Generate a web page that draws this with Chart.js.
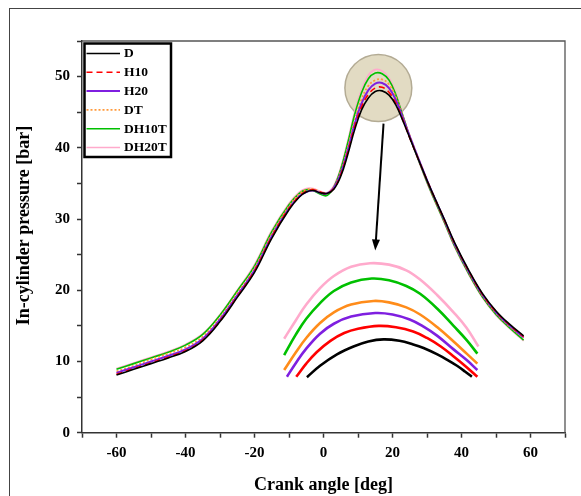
<!DOCTYPE html>
<html>
<head>
<meta charset="utf-8">
<script src="https://cdn.jsdelivr.net/npm/chart.js@4.4.0/dist/chart.umd.min.js"></script>
<style>
  html, body { margin: 0; padding: 0; background: #fff; }
  #wrap { position: relative; width: 581px; height: 496px; overflow: hidden; }
  #frame { position: absolute; left: 9px; top: 8px; width: 700px; height: 700px; border-left: 1.5px solid #444; border-top: 1.5px solid #444; }
  canvas { position: absolute; left: 0; top: 0; }
</style>
</head>
<body>
<div id="wrap"><div id="frame"></div><canvas id="myChart" width="581" height="496"></canvas></div>
<script>
'use strict';

// crank angle [deg] for the main curves
let angle = [-60, -55, -50, -45, -40, -35, -30, -25, -20, -15, -10, -7, -5, -3, -1, 1, 3, 5, 7, 9, 11, 13, 15, 17, 19, 21, 23, 25, 28, 31, 35, 38, 42, 46, 50, 54, 58];

let labels = ['D', 'H10', 'H20', 'DT', 'DH10T', 'DH20T'];

// in-cylinder pressure [bar]
let pD = [8.1, 8.9, 9.7, 10.5, 11.4, 12.9, 15.6, 19.0, 22.5, 27.3, 31.3, 33.1, 33.8, 34.0, 33.7, 33.6, 34.2, 36.0, 39.0, 42.5, 45.3, 47.0, 47.9, 48.0, 47.4, 46.0, 43.8, 41.4, 37.8, 34.3, 30.0, 26.7, 22.9, 19.6, 17.1, 15.2, 13.6];
let pH10 = [8.2, 9.0, 9.8, 10.6, 11.5, 13.0, 15.7, 19.1, 22.7, 27.5, 31.5, 33.2, 33.9, 34.1, 33.8, 33.6, 34.3, 36.2, 39.3, 42.9, 45.7, 47.5, 48.4, 48.5, 47.8, 46.2, 43.9, 41.4, 37.8, 34.3, 29.9, 26.6, 22.8, 19.5, 17.0, 15.1, 13.5];
let pH20 = [8.4, 9.2, 10.0, 10.8, 11.7, 13.2, 15.9, 19.3, 22.8, 27.6, 31.5, 33.2, 33.8, 34.0, 33.7, 33.6, 34.4, 36.4, 39.6, 43.3, 46.2, 48.1, 49.0, 49.1, 48.4, 46.7, 44.2, 41.6, 37.9, 34.3, 29.9, 26.5, 22.7, 19.4, 16.9, 15.0, 13.4];
let pDT = [8.6, 9.4, 10.3, 11.1, 12.0, 13.5, 16.2, 19.6, 23.1, 27.9, 31.8, 33.5, 34.1, 34.2, 33.8, 33.6, 34.5, 36.7, 40.0, 43.8, 46.8, 48.7, 49.5, 49.6, 48.9, 47.1, 44.4, 41.7, 37.9, 34.2, 29.8, 26.4, 22.6, 19.3, 16.8, 14.9, 13.3];
let pDH10T = [8.9, 9.7, 10.5, 11.3, 12.3, 13.8, 16.5, 19.9, 23.4, 28.2, 32.0, 33.6, 34.1, 34.0, 33.5, 33.3, 34.5, 37.0, 40.6, 44.6, 47.7, 49.7, 50.5, 50.4, 49.5, 47.4, 44.5, 41.6, 37.7, 34.0, 29.6, 26.2, 22.4, 19.1, 16.6, 14.7, 13.0];
let pDH20T = [9.0, 9.8, 10.6, 11.4, 12.4, 13.9, 16.6, 20.0, 23.6, 28.4, 32.2, 33.8, 34.3, 34.3, 33.9, 33.7, 34.7, 37.2, 40.9, 45.0, 48.1, 50.2, 51.0, 50.8, 49.8, 47.6, 44.6, 41.6, 37.6, 33.9, 29.5, 26.1, 22.3, 19.0, 16.5, 14.6, 12.9];

// magnified peak (inset drawn on the same axes)
let zxD = [-4.8, -1, 3.9, 8.7, 13, 17.4, 22, 26, 29, 33, 36, 38.7, 41, 43];
let zyD = [7.8, 9.4, 11.0, 12.1, 12.8, 13.1, 12.9, 12.4, 11.9, 11.0, 10.2, 9.4, 8.6, 7.85];
let zxH10 = [-7.9, -5, -2, 2, 6, 10, 16, 21, 26, 30, 34, 38, 41.5, 44.6];
let zyH10 = [7.85, 9.7, 11.3, 12.9, 14.0, 14.6, 15.0, 14.8, 14.2, 13.3, 12.1, 10.6, 9.2, 7.85];
let zxH20 = [-10.6, -8, -5, -1, 3, 8, 15, 20, 25, 29, 33, 37.7, 41.5, 44.6];
let zyH20 = [7.85, 9.8, 11.8, 13.9, 15.3, 16.3, 16.8, 16.6, 15.9, 14.9, 13.6, 11.7, 10.2, 8.8];
let zxDT = [-11.4, -8, -5, -1, 3, 8, 14.5, 19, 24, 28, 33, 37.7, 41.5, 44.6];
let zyDT = [8.8, 11.3, 13.3, 15.4, 16.9, 18.0, 18.5, 18.3, 17.6, 16.6, 14.8, 12.8, 11.1, 9.7];
let zxDH10T = [-11.4, -8, -5, -1, 3, 8, 14, 19, 24, 28, 33, 37.7, 41.5, 44.6];
let zyDH10T = [10.9, 13.8, 16.0, 18.2, 19.9, 21.1, 21.65, 21.4, 20.6, 19.5, 17.4, 15.0, 13.0, 11.1];
let zxDH20T = [-11.4, -8, -5, -1, 3, 8, 13.5, 19, 24, 28, 33, 37.7, 41.5, 44.9];
let zyDH20T = [13.2, 15.8, 18.0, 20.3, 22.0, 23.3, 23.8, 23.6, 22.8, 21.5, 19.3, 16.9, 14.7, 12.1];

// highlight circle and arrow, in data units
let circleCenter = [15.9, 48.4];
let circleRadius = 9.7;
let arrowFrom = [17.4, 43.4];
let arrowTo = [15.0, 25.6];

let serif = "'Liberation Serif', 'Times New Roman', serif";

function pts(xs, ys) {
  let out = [];
  for (let i = 0; i < xs.length; i++) {
    out.push({ x: xs[i], y: ys[i] });
  }
  return out;
}

function line(label, xs, ys, color, width, dash) {
  return {
    label: label,
    data: pts(xs, ys),
    borderColor: color,
    backgroundColor: color,
    borderWidth: width,
    borderDash: dash || [],
    borderCapStyle: 'butt',
    pointRadius: 0,
    tension: 0.4,
    fill: false
  };
}

let extras = {
  id: 'extras',
  beforeDatasetsDraw(chart) {
    let ctx = chart.ctx;
    let xs = chart.scales.x;
    let ys = chart.scales.y;
    let cx = xs.getPixelForValue(circleCenter[0]);
    let cy = ys.getPixelForValue(circleCenter[1]);
    let r = xs.getPixelForValue(circleCenter[0] + circleRadius) - cx;
    ctx.save();
    ctx.beginPath();
    ctx.arc(cx, cy, r, 0, Math.PI * 2);
    ctx.fillStyle = '#e2dbc3';
    ctx.fill();
    ctx.lineWidth = 1.5;
    ctx.strokeStyle = '#b3ab94';
    ctx.stroke();
    ctx.restore();
  },
  afterDraw(chart) {
    let ctx = chart.ctx;
    let a = chart.chartArea;
    let xs = chart.scales.x;
    let ys = chart.scales.y;
    ctx.save();

    // top and right frame
    ctx.strokeStyle = '#555';
    ctx.lineWidth = 1.3;
    ctx.beginPath();
    ctx.moveTo(a.left, a.top);
    ctx.lineTo(a.right, a.top);
    ctx.lineTo(a.right, a.bottom);
    ctx.stroke();

    // arrow
    let x1 = xs.getPixelForValue(arrowFrom[0]);
    let y1 = ys.getPixelForValue(arrowFrom[1]);
    let x2 = xs.getPixelForValue(arrowTo[0]);
    let y2 = ys.getPixelForValue(arrowTo[1]);
    let ang = Math.atan2(y2 - y1, x2 - x1);
    ctx.strokeStyle = '#000';
    ctx.fillStyle = '#000';
    ctx.lineWidth = 2;
    ctx.beginPath();
    ctx.moveTo(x1, y1);
    ctx.lineTo(x2 - 8 * Math.cos(ang), y2 - 8 * Math.sin(ang));
    ctx.stroke();
    ctx.beginPath();
    ctx.moveTo(x2, y2);
    ctx.lineTo(x2 - 11 * Math.cos(ang) + 4 * Math.sin(ang), y2 - 11 * Math.sin(ang) - 4 * Math.cos(ang));
    ctx.lineTo(x2 - 11 * Math.cos(ang) - 4 * Math.sin(ang), y2 - 11 * Math.sin(ang) + 4 * Math.cos(ang));
    ctx.closePath();
    ctx.fill();

    // legend
    let lx = a.left + 2.5;
    let ly = a.top + 2.5;
    ctx.lineWidth = 2.5;
    ctx.strokeStyle = '#000';
    ctx.strokeRect(lx, ly, 86.5, 113.5);
    ctx.font = 'bold 13.5px ' + serif;
    ctx.textBaseline = 'middle';
    ctx.textAlign = 'left';
    for (let i = 0; i < labels.length; i++) {
      let ds = chart.data.datasets[i];
      let yy = ly + 10 + i * 18.8;
      ctx.strokeStyle = ds.borderColor;
      ctx.lineWidth = ds.borderWidth;
      ctx.setLineDash(ds.borderDash);
      ctx.beginPath();
      ctx.moveTo(lx + 2, yy);
      ctx.lineTo(lx + 35.5, yy);
      ctx.stroke();
      ctx.setLineDash([]);
      ctx.fillStyle = '#000';
      ctx.fillText(labels[i], lx + 39.5, yy + 0.5);
    }

    // y axis title
    ctx.translate(24.5, 225.5);
    ctx.rotate(-Math.PI / 2);
    ctx.textAlign = 'center';
    ctx.font = 'bold 18px ' + serif;
    ctx.fillText('In-cylinder pressure [bar]', 0, 0);
    ctx.restore();
  }
};

let ctx = document.getElementById('myChart').getContext('2d');
let myChart = new Chart(ctx, {
  type: 'line',
  data: {
    datasets: [
      line(labels[0], angle, pD, '#000000', 1.6),
      line(labels[1], angle, pH10, '#ff0000', 1.6, [6, 4]),
      line(labels[2], angle, pH20, '#7f1fe0', 2),
      line(labels[3], angle, pDT, '#ff9a3c', 1.8, [2, 2]),
      line(labels[4], angle, pDH10T, '#00c000', 1.6),
      line(labels[5], angle, pDH20T, '#ffaacc', 1.6),
      line('zD', zxD, zyD, '#000000', 2.6),
      line('zH10', zxH10, zyH10, '#ff0000', 2.6),
      line('zH20', zxH20, zyH20, '#7f1fe0', 2.6),
      line('zDT', zxDT, zyDT, '#ff8c1a', 2.6),
      line('zDH10T', zxDH10T, zyDH10T, '#00c000', 2.6),
      line('zDH20T', zxDH20T, zyDH20T, '#ffaacc', 2.6)
    ]
  },
  options: {
    responsive: false,
    animation: false,
    devicePixelRatio: 1,
    layout: { padding: { left: 0, top: 41, right: 16, bottom: 0 } },
    plugins: {
      legend: { display: false },
      tooltip: { enabled: false }
    },
    scales: {
      x: {
        type: 'linear',
        min: -70,
        max: 70,
        afterFit: function (scale) { scale.height = 63.3; },
        grid: { drawOnChartArea: false, drawTicks: true, tickLength: 5, tickColor: '#333', tickWidth: 1.5 },
        border: { color: '#333', width: 1.5 },
        ticks: {
          stepSize: 10,
          autoSkip: false,
          maxRotation: 0,
          padding: 6,
          color: '#000',
          font: { family: serif, weight: 'bold', size: 15 },
          callback: function (v) { return (v % 20 === 0 && Math.abs(v) <= 60) ? String(v) : ''; }
        },
        title: {
          display: true,
          text: 'Crank angle [deg]',
          color: '#000',
          font: { family: serif, weight: 'bold', size: 18 },
          padding: { top: 0, bottom: 0 }
        }
      },
      y: {
        min: 0,
        max: 55,
        afterFit: function (scale) { scale.width = 82; },
        grid: { drawOnChartArea: false, drawTicks: true, tickLength: 5, tickColor: '#333', tickWidth: 1.5 },
        border: { color: '#333', width: 1.5 },
        ticks: {
          stepSize: 5,
          autoSkip: false,
          padding: 7,
          color: '#000',
          font: { family: serif, weight: 'bold', size: 15 },
          callback: function (v) { return (v % 10 === 0 && v <= 50) ? String(v) : ''; }
        }
      }
    }
  },
  plugins: [extras]
});
</script>
</body>
</html>
